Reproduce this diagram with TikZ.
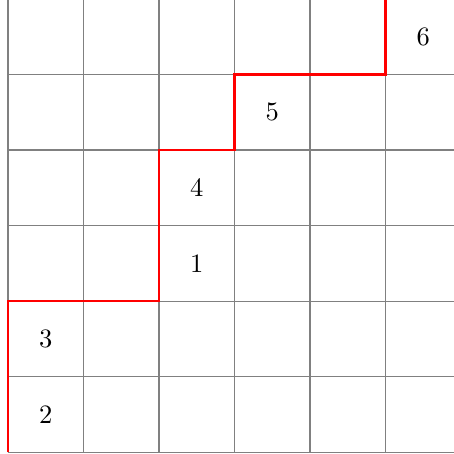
\documentclass[tikz,border=0pt]{standalone}
\usepackage{tikz}
\usetikzlibrary{positioning}

\begin{document}
\begin{tikzpicture}[
    gridline/.style={gray, line width=0.4pt},
    stair/.style={red, line width=0.8pt},
    num/.style={inner sep=0pt}]
  \clip (-0.106,-0.026) rectangle (5.907,5.987);
  \draw[gridline] (0,0) grid (6,6);
  % path of the staircase
  \draw[stair] (0,0) -- (0,2) -- (2,2) -- (2,4) -- (3,4) -- (3,5)
    -- (5,5) -- (5,6) -- (6,6);
  \node[num] (n2) at (0.5,0.5) {2};
  \node[num] (n3) at (0.5,1.5) {3};
  \node[num] (n1) at (2.5,2.5) {1};
  \node[num] (n4) at (2.5,3.5) {4};
  \node[num] (n5) at (3.5,4.5) {5};
  \node[num] (n6) at (5.5,5.5) {6};
\end{tikzpicture}
\end{document}
